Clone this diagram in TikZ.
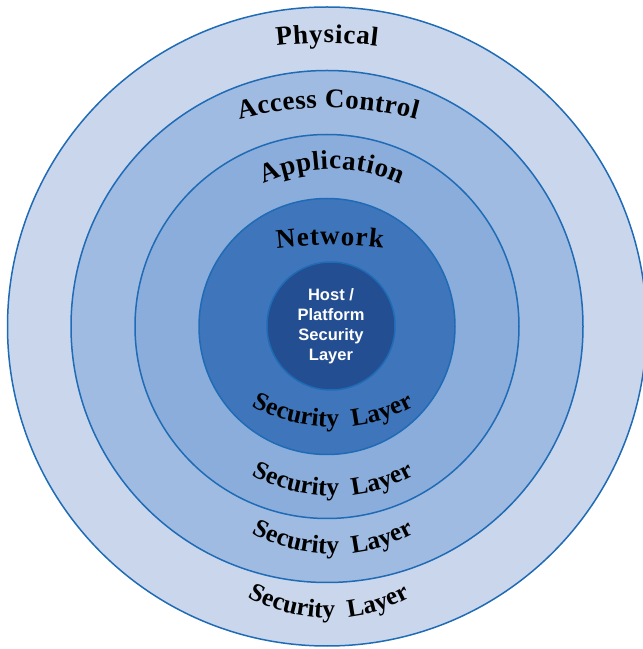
\documentclass[tikz,border=0pt]{standalone}
\usepackage{fontspec}
\setmainfont{Liberation Serif}
\newfontfamily\hostfont{Liberation Sans}
\usetikzlibrary{decorations.text}

\definecolor{ringline}{HTML}{1F6BB5}
\definecolor{ringA}{HTML}{C9D6EC}
\definecolor{ringB}{HTML}{9FBBE1}
\definecolor{ringC}{HTML}{8AADDB}
\definecolor{ringD}{HTML}{3F75BB}
\definecolor{ringE}{HTML}{234E91}

\newcommand{\layerfont}{\bfseries\fontsize{27}{32}\selectfont}
\newcommand{\secfont}{\bfseries\fontsize{25.5}{30}\selectfont}

\begin{document}
\begin{tikzpicture}[
  x=1pt, y=1pt,
    ring/.style={circle, draw=ringline, line width=1.5pt, inner sep=0pt},
    layertext/.style={decorate, decoration={text along path, text={|\layerfont|#1}, text align={fit to path}}},
    sectext/.style={decorate, decoration={text along path, text={|\secfont|Security Layer}, text align={fit to path stretching spaces}}}
]
\useasboundingbox (0,0) rectangle (643,649);

% Rings, outside in
\node[ring, fill=ringA, minimum size=639pt] (physical) at (327,322.5) {};
\node[ring, fill=ringB, minimum size=512pt] (access) at (327,322.5) {};
\node[ring, fill=ringC, minimum size=384pt] (application) at (327,322.5) {};
\node[ring, fill=ringD, minimum size=256pt] (network) at (327,322.5) {};
\node[ring, fill=ringE, minimum size=128pt, align=center, text=white, font=\hostfont\bfseries\fontsize{16.5}{20}\selectfont] (host) at (331,323) {Host /\\Platform\\Security\\Layer};

% Layer names, arched over the top
\path[layertext=Physical] ([shift={(327,186)}]96.9:420pt) arc[start angle=96.9, end angle=83.1, radius=420pt];
\path[layertext=Access Control] ([shift={(328,199)}]105:342pt) arc[start angle=105, end angle=75, radius=342pt];
\path[layertext=Application] ([shift={(332,315)}]114.5:165pt) arc[start angle=114.5, end angle=65.5, radius=165pt];
\path[layertext=Network] ([shift={(330,-31)}]97:435pt) arc[start angle=97, end angle=83, radius=435pt];

% Security Layer, one per ring along the bottom
\foreach \cx/\cy in {333/392, 333/323, 333/265, 329/201}
  \path[sectext] ([shift={(\cx,\cy)}]241.5:170pt) arc[start angle=241.5, end angle=298.5, radius=170pt];

\end{tikzpicture}
\end{document}
